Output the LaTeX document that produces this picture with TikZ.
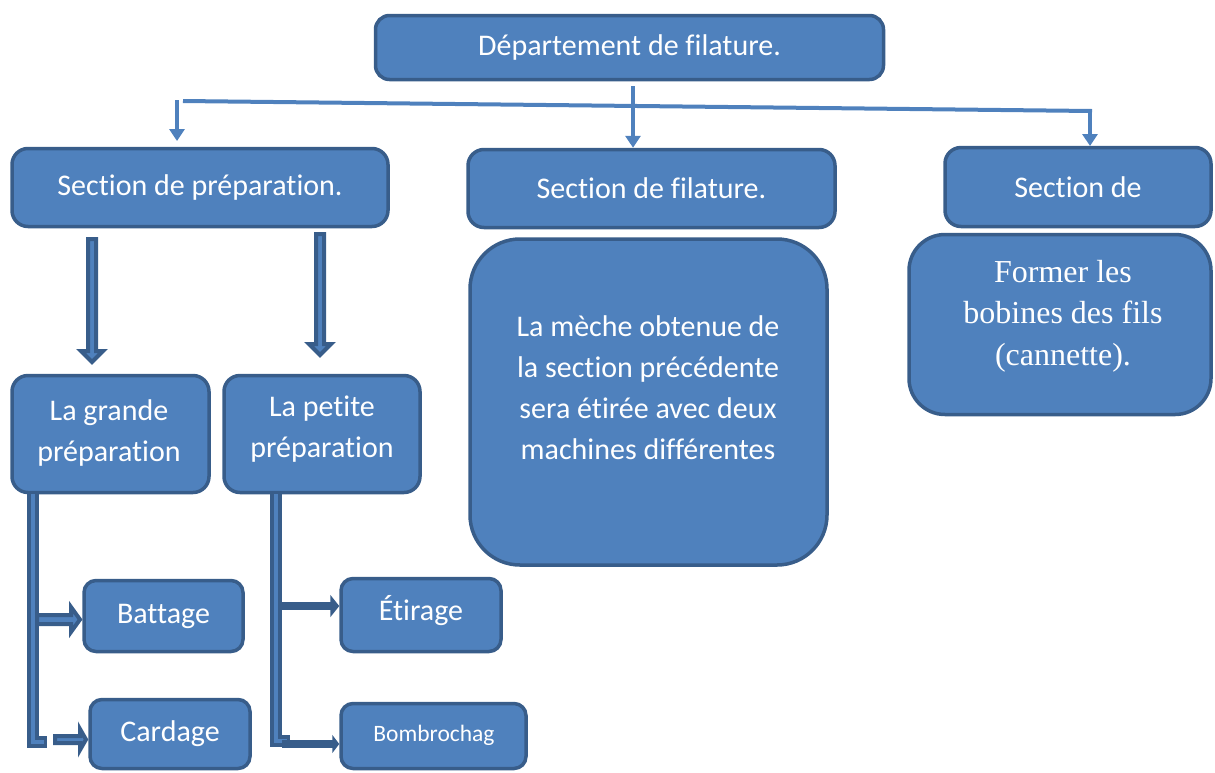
\documentclass[tikz,border=0pt]{standalone}
\usepackage{fontspec}
\setmainfont{Carlito}[Ligatures={NoCommon}]
\newfontfamily\serifface{Liberation Serif}
\usetikzlibrary{arrows.meta}
\definecolor{fillb}{HTML}{4F81BD}
\definecolor{edgeb}{HTML}{385D8A}
\begin{document}
\begin{tikzpicture}[x=1pt,y=-1pt,
  box/.style={draw=edgeb, fill=fillb, line width=3.5pt, rounded corners=#1,
    text=white, align=center, inner sep=0pt,
    font=\fontsize{30}{41}\selectfont},
  box/.default=14pt,
  txt/.style={text=white, align=center, inner sep=0pt, font=\fontsize{30}{41}\selectfont},
  thin/.style={draw=fillb, line width=4pt, -{Triangle[length=12pt,width=15pt]}},
  blk/.style={fill=fillb, draw=edgeb, line width=4pt},
  solidarr/.style={draw=edgeb, line width=8pt, -{Triangle[length=9pt,width=22pt]}}
]
\useasboundingbox (0,0) rectangle (1215,772);

% boxes
\node[box=14pt, minimum width=508pt, minimum height=64pt] (dep) at (629.5,47.5) {Département de filature.};
\node[box=16pt, minimum width=376pt, minimum height=78pt] (prep) at (200,187.5) {Section de préparation.};
\node[box=16pt, minimum width=367pt, minimum height=78pt] (fil) at (651.5,188.5) {Section de filature.};
\node[box=16pt, minimum width=266pt, minimum height=79pt] (sec) at (1078,187) {Section de};
\node[box=36pt, minimum width=302pt, minimum height=180pt] (form) at (1060,324.5) {};
\node[txt, font=\serifface\fontsize{32}{41.5}\selectfont] (formt) at (1063,316) {Former les\\bobines des fils\\(cannette).};
\node[box=50pt, minimum width=357pt, minimum height=326pt] (meche) at (648.5,402) {};
\node[txt] (mechet) at (648,388) {La mèche obtenue de\\la section précédente\\sera étirée avec deux\\machines différentes};
\node[box=16pt, minimum width=197pt, minimum height=117pt] (gra) at (110.5,434) {};
\node[txt] (grat) at (109,432.5) {La grande\\préparation};
\node[box=16pt, minimum width=196pt, minimum height=117pt] (pet) at (322,434) {};
\node[txt] (pett) at (322,429.5) {La petite\\préparation};
\node[box=12pt, minimum width=159pt, minimum height=71pt] (bat) at (163.5,616) {Battage};
\node[box=12pt, minimum width=160pt, minimum height=69pt] (car) at (170,734) {Cardage};
\node[box=12pt, minimum width=160pt, minimum height=73pt] (eti) at (421,615) {};
\node[txt] (etit) at (421,611) {Étirage};
\node[box=12pt, minimum width=185pt, minimum height=65pt] (bom) at (433.5,736) {};
\node[txt, font=\fontsize{23.5}{30}\selectfont] (bomt) at (434,735) {Bombrochag};

% top connectors
\coordinate (hl) at (183,101);
\coordinate (hr) at (1092,111);
\draw[draw=fillb, line width=4pt] (hl) -- (hr);
\draw[thin] (177,100) -- (177,141);
\draw[thin] (633,86) -- (fil.north -| 633,0);
\draw[thin] (1090,110) -- (1090,146);

% block arrows down
\filldraw[blk] (88,239) -- (96,239) -- (96,351) -- (103,351) -- (92,362) -- (81,351) -- (88,351) -- cycle;
\filldraw[blk] (316,234) -- (324,234) -- (324,344) -- (331,344) -- (320,355) -- (309,344) -- (316,344) -- cycle;

% left elbow
\draw[edgeb, line width=12pt] (gra.south -| 33,0) -- (33,742) -- (47,742);
\draw[fillb, line width=4pt] (gra.south -| 33,0) -- (33,742) -- (44,742);
\filldraw[blk] (37,615) -- (71,615) -- (71,607) -- (80,619.5) -- (71,632) -- (71,624) -- (37,624) -- cycle;
\filldraw[blk] (55,736) -- (80,736) -- (80,729) -- (86,739.5) -- (80,750) -- (80,743) -- (55,743) -- cycle;

% right elbow
\draw[edgeb, line width=12pt] (pet.south -| 276,0) -- (276,741) -- (290,741);
\draw[fillb, line width=4pt] (pet.south -| 276,0) -- (276,741) -- (287,741);
\draw[solidarr] (282,606) -- (eti.west |- 0,606);
\draw[solidarr, -{Triangle[length=7pt,width=18pt]}] (282,744) -- (bom.west |- 0,744);
\end{tikzpicture}
\end{document}
